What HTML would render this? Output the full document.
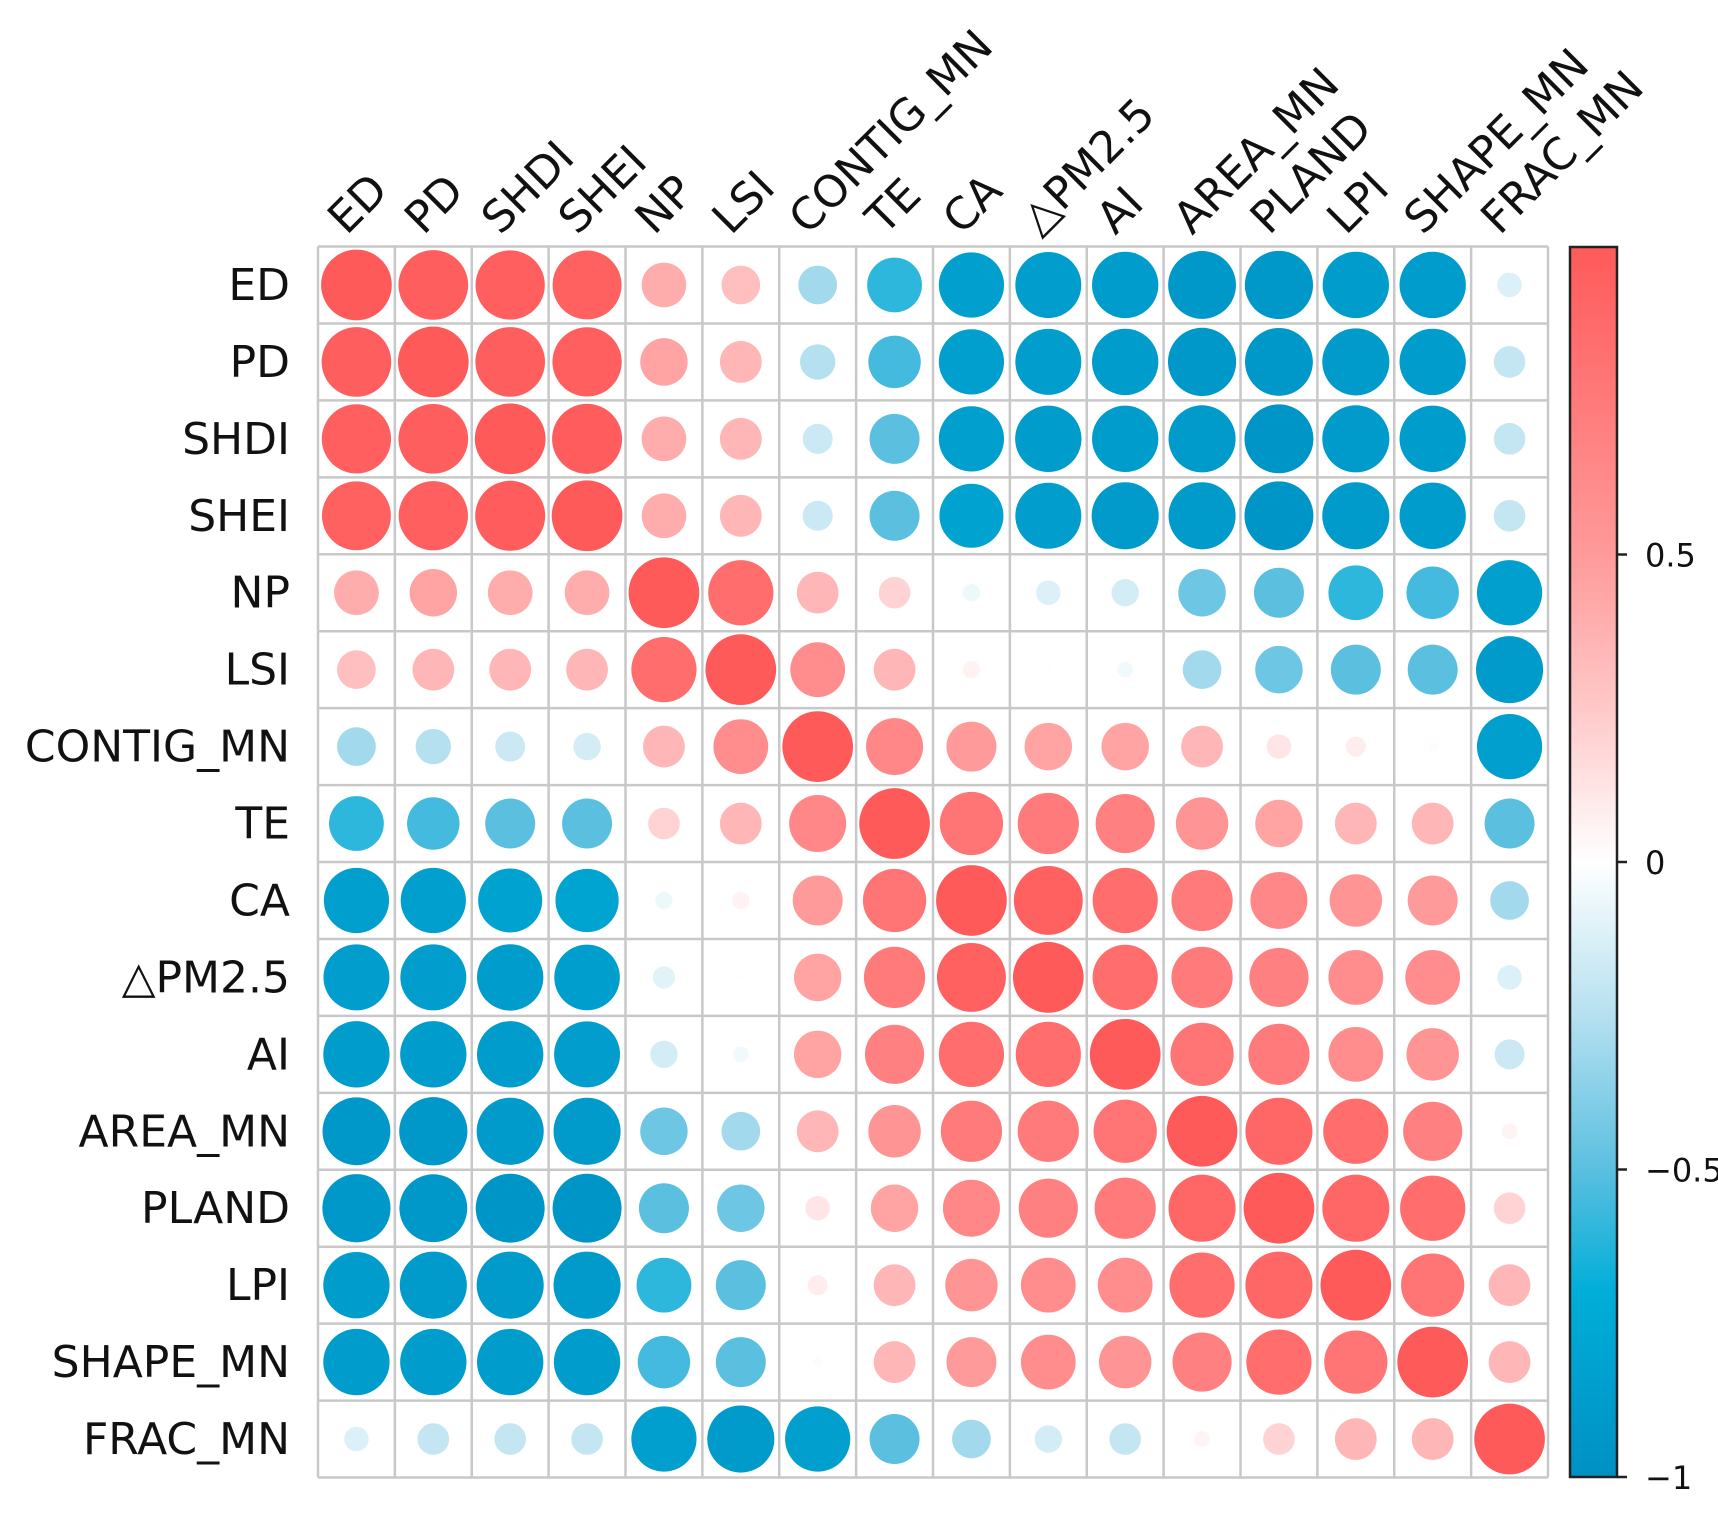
<!DOCTYPE html>
<html><head><meta charset="utf-8"><style>
html,body{margin:0;padding:0;background:#fff;}
svg{display:block;font-family:"DejaVu Sans","Liberation Sans",sans-serif;}
</style></head><body>
<svg id="chart" width="1718" height="1516" viewBox="0 0 1718 1516">
<defs>
<linearGradient id="cbg" x1="0" y1="0" x2="0" y2="1">
<stop offset="0" stop-color="#FF5A5A"/><stop offset="0.125" stop-color="#FF7A7A"/><stop offset="0.25" stop-color="#FF9A9A"/><stop offset="0.375" stop-color="#FFC8C8"/><stop offset="0.5" stop-color="#FFFFFF"/><stop offset="0.625" stop-color="#B5E0F0"/><stop offset="0.75" stop-color="#5BBFE0"/><stop offset="0.85" stop-color="#00AED8"/><stop offset="1" stop-color="#0090C4"/>
</linearGradient>
</defs>
<g id="grid"></g>
<g id="marks"></g>
<g id="rowlabels"></g>
<g id="collabels"></g>
<g>
<rect x="1570" y="247" width="47" height="1230" fill="url(#cbg)" stroke="#222" stroke-width="2.5"/>
<g id="cbticks"></g>
</g>
</svg>
<script>
const labels = ["ED","PD","SHDI","SHEI","NP","LSI","CONTIG_MN","TE","CA","\u25B3PM2.5","AI","AREA_MN","PLAND","LPI","SHAPE_MN","FRAC_MN"];
const rowED = [1,.97,.96,.95,.4,.3,-.3,-.6,-.85,-.87,-.88,-.92,-.93,-.88,-.88,-.12];
const rowPD = [.97,1,.97,.96,.45,.35,-.25,-.55,-.85,-.87,-.88,-.93,-.92,-.9,-.88,-.2];
const rowSHDI = [.96,.97,1,.98,.4,.35,-.18,-.5,-.85,-.88,-.88,-.9,-.95,-.9,-.88,-.2];
const rowSHEI = [.95,.96,.98,1,.4,.35,-.18,-.5,-.82,-.87,-.9,-.9,-.95,-.9,-.88,-.2];
const rowNP = [.4,.45,.4,.4,1,.85,.35,.2,-.06,-.12,-.15,-.45,-.5,-.6,-.55,-.85];
const rowLSI = [.3,.35,.35,.35,.85,1,.6,.35,.06,.01,-.05,-.3,-.45,-.5,-.5,-.9];
const rowCONTIG = [-.3,-.25,-.18,-.15,.35,.6,1,.65,.5,.45,.45,.35,.12,.08,.02,-.85];
const rowTE = [-.6,-.55,-.5,-.5,.2,.35,.65,1,.8,.75,.7,.55,.45,.35,.35,-.5];
const rowCA = [-.85,-.85,-.82,-.8,-.06,.06,.5,.8,1,.95,.85,.75,.65,.55,.5,-.3];
const rowPM = [-.87,-.87,-.88,-.86,-.1,.01,.45,.75,.95,1,.85,.75,.7,.6,.6,-.12];
const rowAI = [-.88,-.88,-.88,-.87,-.15,-.05,.45,.7,.85,.85,1,.8,.75,.6,.55,-.18];
const rowAREA = [-.92,-.93,-.9,-.9,-.45,-.3,.35,.55,.75,.75,.8,1,.9,.85,.7,.05];
const rowPLAND = [-.93,-.92,-.95,-.95,-.5,-.45,.12,.45,.65,.7,.75,.9,1,.9,.85,.2];
const rowLPI = [-.88,-.9,-.9,-.9,-.6,-.5,.08,.35,.55,.6,.6,.85,.9,1,.8,.35];
const rowSHAPE = [-.88,-.88,-.88,-.88,-.55,-.5,.02,.35,.5,.6,.55,.7,.85,.8,1,.35];
const rowFRAC = [-.12,-.2,-.2,-.2,-.85,-.9,-.85,-.5,-.3,-.15,-.2,.05,.2,.35,.35,1];
const matrix = [rowED,rowPD,rowSHDI,rowSHEI,rowNP,rowLSI,rowCONTIG,rowTE,rowCA,rowPM,rowAI,rowAREA,rowPLAND,rowLPI,rowSHAPE,rowFRAC];
const cbTickValues = [0.5,0,-0.5,-1];
const cbTickLabels = ["0.5","0","\u22120.5","\u22121"];

const NS="http://www.w3.org/2000/svg";
const gx0=318, gy0=246.5, gw=1230, gh=1231, n=labels.length;
const cw=gw/n, ch=gh/n;
const colX=j=>gx0+cw*(j+0.5);
const rowY=i=>gy0+ch*(i+0.5);
const cbY=v=>247+(1-v)/2*1230;
const stops=[[-1,[0,144,196]],[-0.7,[0,174,216]],[-0.5,[91,191,224]],[-0.25,[181,224,240]],[0,[255,255,255]],[0.25,[255,200,200]],[0.5,[255,154,154]],[0.75,[255,122,122]],[1,[255,90,90]]];
function color(v){
  for(let k=0;k<stops.length-1;k++){
    const a=stops[k],b=stops[k+1];
    if(v>=a[0]&&v<=b[0]){const t=(v-a[0])/(b[0]-a[0]);
      const c=a[1].map((x,i)=>Math.round(x+(b[1][i]-x)*t));return `rgb(${c.join(',')})`;}
  }
  return '#fff';
}
const grid=document.getElementById('grid');
for(let k=0;k<=n;k++){
  const l1=document.createElementNS(NS,'line');
  l1.setAttribute('x1',gx0+cw*k);l1.setAttribute('x2',gx0+cw*k);l1.setAttribute('y1',gy0);l1.setAttribute('y2',gy0+gh);
  l1.setAttribute('stroke','#c8c8c8');l1.setAttribute('stroke-width','2.5');
  
  
  grid.appendChild(l1);
  const l2=document.createElementNS(NS,'line');
  l2.setAttribute('y1',gy0+ch*k);l2.setAttribute('y2',gy0+ch*k);l2.setAttribute('x1',gx0);l2.setAttribute('x2',gx0+gw);
  l2.setAttribute('stroke','#c8c8c8');l2.setAttribute('stroke-width','2.5');
  
  
  grid.appendChild(l2);
}
const marks=document.getElementById('marks');
matrix.forEach((row,i)=>row.forEach((v,j)=>{
  const c=document.createElementNS(NS,'circle');
  c.setAttribute('cx',colX(j));c.setAttribute('cy',rowY(i));
  c.setAttribute('r',0.46*cw*Math.sqrt(Math.abs(v)));
  c.setAttribute('fill',color(v));
  
  
  marks.appendChild(c);
}));
const rl=document.getElementById('rowlabels'), cl=document.getElementById('collabels');
labels.forEach((s,i)=>{
  const t=document.createElementNS(NS,'text');
  t.setAttribute('x',290);t.setAttribute('y',rowY(i)+15);
  t.setAttribute('text-anchor','end');t.setAttribute('font-size','44');t.setAttribute('fill','#111');
  t.textContent=s;
  
  
  rl.appendChild(t);
  const u=document.createElementNS(NS,'text');
  const x=colX(i)-10, y=236;
  u.setAttribute('x',x);u.setAttribute('y',y);
  u.setAttribute('transform',`rotate(-45 ${x} ${y})`);
  u.setAttribute('font-size','44');u.setAttribute('fill','#111');
  u.textContent=s;
  
  
  cl.appendChild(u);
});
const cbt=document.getElementById('cbticks');
cbTickValues.forEach((v,k)=>{
  const y=cbY(v);
  const l=document.createElementNS(NS,'line');
  l.setAttribute('x1',1617);l.setAttribute('x2',1627);l.setAttribute('y1',y);l.setAttribute('y2',y);
  l.setAttribute('stroke','#222');l.setAttribute('stroke-width','2.5');
  
  
  cbt.appendChild(l);
  const t=document.createElementNS(NS,'text');
  t.setAttribute('x',1645);t.setAttribute('y',y+12);t.setAttribute('font-size','32');t.setAttribute('fill','#111');
  t.textContent=cbTickLabels[k];
  
  
  cbt.appendChild(t);
});
</script>
</body></html>
